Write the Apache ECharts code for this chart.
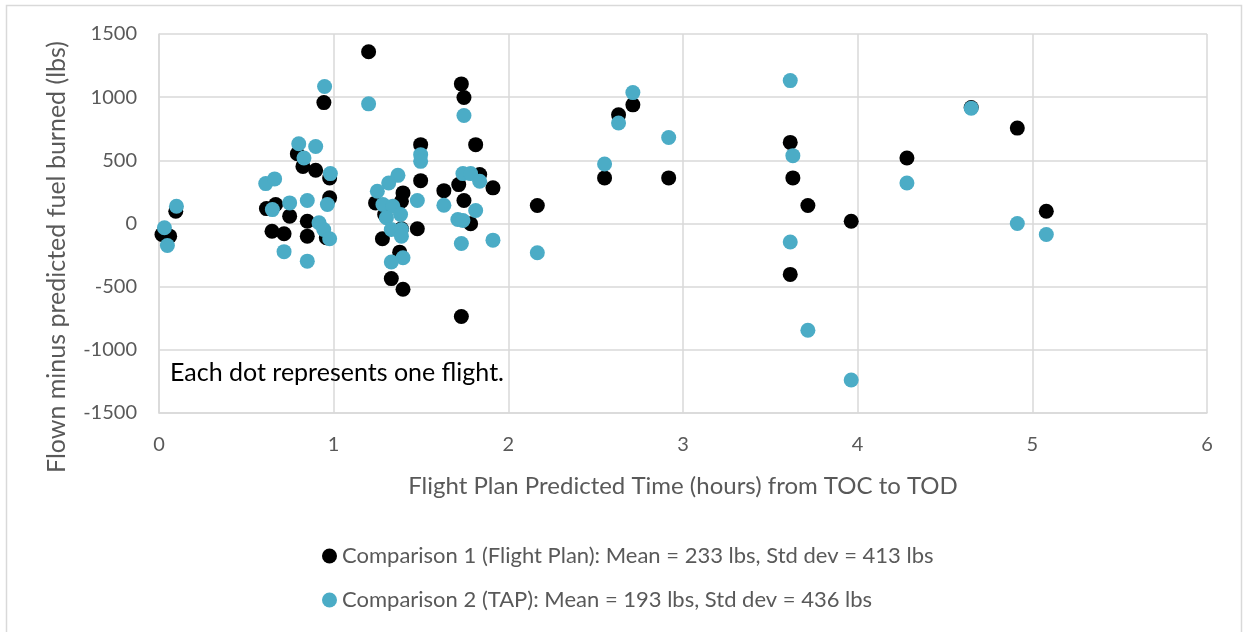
<!DOCTYPE html>
<html>
<head>
<meta charset="utf-8">
<script src="https://cdn.jsdelivr.net/npm/echarts@6/dist/echarts.min.js"></script>
<style>
  html, body { margin: 0; padding: 0; background: #ffffff; }
  #chart { width: 1244px; height: 632px; }
</style>
</head>
<body>
<div id="chart"></div>
<script>
// Comparison 1 (Flight Plan)
const fpX = [0.017, 0.061, 0.096, 0.615, 0.668, 0.748, 0.647, 0.716, 0.849, 0.849, 0.792, 0.824, 0.897, 0.944, 0.977, 0.977, 0.958,
  1.2, 1.498, 1.498, 1.397, 1.388, 1.24, 1.279, 1.479, 1.33, 1.397, 1.378, 1.731, 1.746, 1.813, 1.836, 1.631, 1.716, 1.746, 1.784, 1.912, 1.731, 1.292, 1.388,
  2.166, 2.551, 2.631, 2.713, 2.918, 3.614, 3.629, 3.715, 3.963, 3.614, 4.282, 4.65, 4.914, 5.08];
const fpY = [-87, -100, 97, 118, 150, 58, -61, -81, 18, -100, 552, 452, 421, 957, 361, 203, -113,
  1360, 624, 339, 242, 176, 163, -121, -42, -436, -521, -227, 1105, 997, 624, 387, 260, 308, 182, -2, 282, -736, 71, -42,
  142, 361, 860, 939, 361, 642, 361, 142, 18, -403, 518, 918, 755, 97];

// Comparison 2 (TAP)
const tapX = [0.031, 0.048, 0.1, 0.611, 0.662, 0.649, 0.748, 0.849, 0.716, 0.849, 0.8, 0.897, 0.83, 0.948, 0.981, 0.964, 0.916, 0.943, 0.977,
  1.2, 1.498, 1.498, 1.368, 1.315, 1.25, 1.282, 1.339, 1.383, 1.302, 1.33, 1.388, 1.388, 1.397, 1.33, 1.479, 1.746, 1.74, 1.784, 1.836, 1.631, 1.813, 1.711, 1.74, 1.731, 1.912,
  2.166, 2.551, 2.631, 2.713, 2.918, 3.614, 3.629, 3.614, 3.715, 3.963, 4.282, 4.65, 4.914, 5.08];
const tapY = [-34, -174, 137, 316, 353, 110, 163, 182, -223, -298, 631, 610, 519, 1084, 395, 150, 6, -47, -121,
  947, 545, 492, 381, 321, 255, 150, 137, 71, 45, -47, -47, -100, -271, -305, 182, 855, 395, 395, 334, 144, 103, 32, 24, -158, -132,
  -231, 471, 795, 1036, 681, 1131, 537, -147, -845, -1239, 321, 913, 0, -87];

const seriesNames = [
  'Comparison 1 (Flight Plan): Mean = 233 lbs, Std dev = 413 lbs',
  'Comparison 2 (TAP): Mean = 193 lbs, Std dev = 436 lbs'
];
const xAxisTitle = 'Flight Plan Predicted Time (hours) from TOC to TOD';
const yAxisTitle = 'Flown minus predicted fuel burned (lbs)';
const noteText = 'Each dot represents one flight.';

const pairs = (xs, ys) => xs.map((x, i) => [x, ys[i]]);
const FONT = 'Lato, "Open Sans", sans-serif';

const chart = echarts.init(document.getElementById('chart'), null, { renderer: 'canvas' });
chart.setOption({
  backgroundColor: '#ffffff',
  animation: false,
  textStyle: { fontFamily: FONT },
  grid: { left: 159, right: 37, top: 34, bottom: 219, containLabel: false },
  xAxis: {
    type: 'value', min: 0, max: 6, interval: 1,
    name: xAxisTitle, nameLocation: 'middle', nameGap: 61,
    nameTextStyle: { color: '#595959', fontSize: 24, fontFamily: FONT },
    axisLine: { show: true, onZero: false, lineStyle: { color: '#d9d9d9', width: 1.5 } },
    axisTick: { show: false },
    axisLabel: { color: '#595959', fontSize: 20, margin: 22, fontFamily: FONT, formatter: v => String(v) },
    splitLine: { show: true, lineStyle: { color: '#d9d9d9', width: 1.5 } }
  },
  yAxis: {
    type: 'value', min: -1500, max: 1500, interval: 500,
    axisLine: { show: true, onZero: false, lineStyle: { color: '#d9d9d9', width: 1.5 } },
    axisTick: { show: false },
    axisLabel: { color: '#595959', fontSize: 20, margin: 22, fontFamily: FONT, formatter: v => String(v) },
    splitLine: { show: true, lineStyle: { color: '#d9d9d9', width: 1.5 } }
  },
  legend: {
    orient: 'vertical', left: 317, top: 540, itemGap: 22,
    icon: 'circle', itemWidth: 15, itemHeight: 15,
    textStyle: { color: '#595959', fontSize: 22, fontFamily: FONT },
    data: seriesNames
  },
  graphic: [
    {
      type: 'rect', silent: true, z: -10,
      shape: { x: 6.5, y: 5.5, width: 1235, height: 660 },
      style: { fill: 'none', stroke: '#d9d9d9', lineWidth: 1.5 }
    },
    {
      type: 'text', x: 57, y: 257, rotation: Math.PI / 2, z: 10,
      style: { text: yAxisTitle, fill: '#595959', font: '25px ' + FONT, align: 'center', verticalAlign: 'middle' }
    },
    {
      type: 'text', left: 170, top: 360, z: 10,
      style: { text: noteText, fill: '#000000', font: '25px ' + FONT }
    }
  ],
  series: [
    {
      name: seriesNames[0], type: 'scatter', symbol: 'circle', symbolSize: 15,
      itemStyle: { color: '#000000', opacity: 1 },
      data: pairs(fpX, fpY)
    },
    {
      name: seriesNames[1], type: 'scatter', symbol: 'circle', symbolSize: 15,
      itemStyle: { color: '#4BACC6', opacity: 1 },
      data: pairs(tapX, tapY)
    }
  ]
});
</script>
</body>
</html>
